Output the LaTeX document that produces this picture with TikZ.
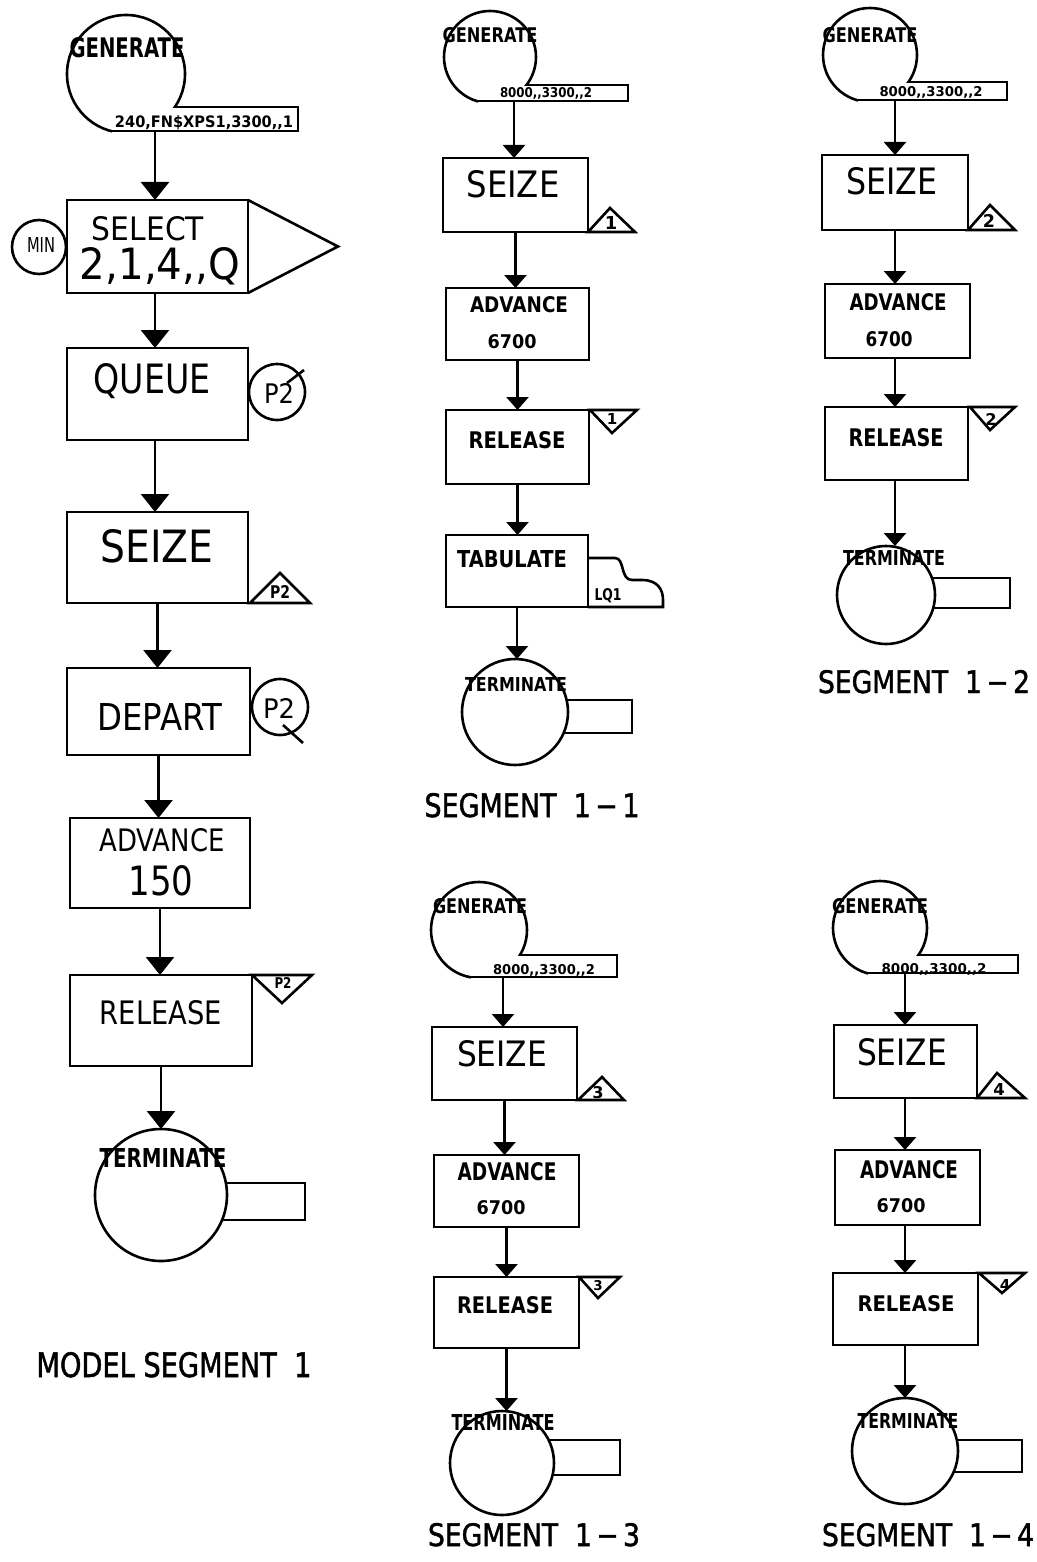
\documentclass[tikz,border=0pt]{standalone}
\usepackage{graphicx}
\usepackage{fontspec}
\setmainfont{DejaVu Sans}
\usetikzlibrary{arrows.meta}
\tikzset{
  ln/.style={line width=2.6pt, line join=miter},
  blk/.style={draw, ln, rectangle, inner sep=0pt, outer sep=0pt},
  cir/.style={draw, ln, circle, inner sep=0pt, outer sep=0pt},
  arL/.style={ln, -{Triangle[length=18pt,width=28pt]}},
  arS/.style={ln, -{Triangle[length=13pt,width=22pt]}},
  lab/.style={anchor=base, inner sep=0pt, outer sep=0pt},
}
\newcommand\cc{,\kern0pt,}
% box: name x1 y1 x2 y2
\newcommand\bx[5]{\node[blk, minimum width={#4-#2}, minimum height={#5-#3}] (#1) at ({(#2+#4)/2},{(#3+#5)/2}) {};}
% text: name cx baseline w h text
\newcommand\tx[6]{\node[lab] (#1) at (#2,#3) {\resizebox{#4pt}{#5pt}{#6}};}
% text by height only: name cx baseline h text
\newcommand\td[5]{\node[lab] (#1) at (#2,#3) {\resizebox{!}{#4pt}{#5}};}
% generate: name cx cy r ytop ybot xright
\newcommand\gen[7]{%
  \node[cir, minimum size={2*#4}] (#1) at (#2,#3) {};
  \pgfmathsetmacro\gxl{#2-sqrt(max(0,#4*#4-(#6-#3)*(#6-#3)))}
  \pgfmathsetmacro\gxr{#2+sqrt(max(0,#4*#4-(#5-#3)*(#5-#3)))}
  \fill[white] (\gxl+1.5,#5+1.4) rectangle (#7,#3+#4+3);
  \draw[ln] (\gxr,#5) -- (#7,#5) -- (#7,#6) -- (\gxl,#6);
}
% terminate: name cx cy r ytop ybot xright
\newcommand\term[7]{%
  \node[cir, minimum size={2*#4}] (#1) at (#2,#3) {};
  \pgfmathsetmacro\txa{#2+sqrt(max(0,#4*#4-(#5-#3)*(#5-#3)))}
  \pgfmathsetmacro\txb{#2+sqrt(max(0,#4*#4-(#6-#3)*(#6-#3)))}
  \draw[ln] (\txa,#5) -- (#7,#5) -- (#7,#6) -- (\txb,#6);
}
\newcommand\capfont{\addfontfeatures{FakeBold=1.5}}
\begin{document}
\begin{tikzpicture}[x=1pt,y=-1pt]
\fill[white] (0,0) rectangle (1036,1562);
\useasboundingbox (0,0) rectangle (1036,1562);

% ================= MODEL SEGMENT 1 =================
\gen{g1}{126}{74}{59}{107}{131}{298}
\tx{g1t}{127}{58}{115}{20}{\bfseries GENERATE}
\tx{g1p}{204}{128}{178}{12}{\bfseries 240,FN\$XPS1,3300\cc1}
\coordinate (g1o) at (155,131);

\bx{sel}{67}{200}{248}{293}
\draw[ln] (sel.north east) -- (338,246.5) -- (sel.south east);
\node[cir, minimum size=54] (min) at (39,247) {};
\tx{mint}{41}{253}{28}{15}{MIN}
\tx{selt}{148}{241}{112}{24}{SELECT}
\tx{selp}{160}{279}{160}{32}{2,1,4\cc Q}

\bx{que}{67}{348}{248}{440}
\tx{quet}{152}{393}{117}{30}{QUEUE}
\node[cir, minimum size=56] (qp) at (277,392) {};
\tx{qpt}{279}{403}{30}{20}{P2}
\draw[ln] (287,383) -- (304,370);

\bx{sei}{67}{512}{248}{603}
\tx{seit}{157}{562}{113}{33}{SEIZE}
\draw[ln] (250,603) -- (280,573) -- (310,603) -- cycle;
\tx{seip}{280}{598}{20}{13}{\bfseries P2}

\bx{dep}{67}{668}{250}{755}
\tx{dept}{160}{730}{125}{27}{DEPART}
\node[cir, minimum size=56] (dp) at (280,707) {};
\tx{dpt}{279}{718}{32}{20}{P2}
\draw[ln] (283,725) -- (303,743);

\bx{adv}{70}{818}{250}{908}
\tx{advt}{162}{851}{125}{23}{ADVANCE}
\tx{advp}{161}{895}{65}{30}{150}

\bx{rel}{70}{975}{252}{1066}
\tx{relt}{161}{1024}{122}{24}{RELEASE}
\draw[ln] (252,975) -- (312,975) -- (282,1003) -- cycle;
\tx{relp}{283}{988}{17}{11}{\bfseries P2}

\term{t1}{161}{1195}{66}{1183}{1220}{305}
\tx{t1t}{163}{1167}{127}{19}{\bfseries TERMINATE}
\tx{cap1}{174}{1377}{275}{25}{\capfont MODEL~SEGMENT~~1}

\draw[arL] (g1o) -- (g1o |- sel.north);
\draw[arL] (g1o |- sel.south) -- (g1o |- que.north);
\draw[arL] (g1o |- que.south) -- (g1o |- sei.north);
\draw[arL] (sei.south) -- (sei.south |- dep.north);
\draw[arL] (dep.south) -- (dep.south |- adv.north);
\draw[arL] (adv.south) -- (adv.south |- rel.north);
\draw[arL] (rel.south) -- (rel.south |- t1.north);

% ================= SEGMENT 1-1 =================
\gen{g11}{490}{57}{46}{85}{101}{628}
\tx{g11t}{490}{43}{95}{15}{\bfseries GENERATE}
\tx{g11p}{546}{98}{92}{10}{\bfseries 8000\cc 3300\cc 2}
\coordinate (g11o) at (514,101);
\bx{s11}{443}{158}{588}{232}
\tx{s11t}{513}{198}{93}{27}{SEIZE}
\draw[ln] (588,232) -- (610,208) -- (635,232) -- cycle;
\td{s11n}{611}{230}{13}{\bfseries 1}
\bx{a11}{446}{288}{589}{360}
\tx{a11t}{519}{312}{98}{16}{\bfseries ADVANCE}
\tx{a11p}{512}{348}{49}{14}{\bfseries 6700}
\bx{r11}{446}{410}{589}{484}
\tx{r11t}{517}{448}{97}{17}{\bfseries RELEASE}
\draw[ln] (590,410) -- (637,410) -- (612,433) -- cycle;
\td{r11n}{612}{424}{11}{\bfseries 1}
\bx{t11}{446}{535}{588}{607}
\tx{t11t}{512}{567}{110}{17}{\bfseries TABULATE}
\draw[ln] (588,558) -- (615,558) .. controls (625,558) and (620,580) .. (632,580) -- (642,580) .. controls (658,580) and (663,590) .. (663,600) -- (663,607) -- (588,607);
\tx{t11p}{608}{600}{27}{12}{\bfseries LQ1}
\term{e11}{515}{712}{53}{700}{733}{632}
\tx{e11t}{516}{691}{102}{14}{\bfseries TERMINATE}
\tx{cap11}{532}{817}{215}{24}{\capfont SEGMENT~~1\,−\,1}

\draw[arS] (g11o) -- (g11o |- s11.north);
\draw[arS] (s11.south) -- (s11.south |- a11.north);
\draw[arS] (a11.south) -- (a11.south |- r11.north);
\draw[arS] (r11.south) -- (r11.south |- t11.north);
\draw[arS] (t11.south) -- (t11.south |- e11.north);

% ================= SEGMENT 1-2 =================
\gen{g12}{870}{55}{47}{82}{100}{1007}
\tx{g12t}{870}{43}{95}{15}{\bfseries GENERATE}
\tx{g12p}{931}{97}{103}{10}{\bfseries 8000\cc 3300\cc 2}
\coordinate (g12o) at (895,100);
\bx{s12}{822}{155}{968}{230}
\tx{s12t}{892}{195}{91}{27}{SEIZE}
\draw[ln] (968,230) -- (990,205) -- (1015,230) -- cycle;
\td{s12n}{989}{228}{13}{\bfseries 2}
\bx{a12}{825}{284}{970}{358}
\tx{a12t}{898}{310}{97}{17}{\bfseries ADVANCE}
\tx{a12p}{889}{346}{47}{15}{\bfseries 6700}
\bx{r12}{825}{407}{968}{480}
\tx{r12t}{896}{446}{95}{18}{\bfseries RELEASE}
\draw[ln] (970,407) -- (1015,407) -- (990,430) -- cycle;
\td{r12n}{991}{425}{12}{\bfseries 2}
\term{e12}{886}{595}{49}{578}{608}{1010}
\tx{e12t}{894}{565}{102}{15}{\bfseries TERMINATE}
\tx{cap12}{924}{693}{212}{23}{\capfont SEGMENT~~1\,−\,2}

\draw[arS] (g12o) -- (g12o |- s12.north);
\draw[arS] (g12o |- s12.south) -- (g12o |- a12.north);
\draw[arS] (g12o |- a12.south) -- (g12o |- r12.north);
\draw[arS] (g12o |- r12.south) -- (g12o |- e12.north);

% ================= SEGMENT 1-3 =================
\gen{g13}{479}{930}{48}{955}{977}{617}
\tx{g13t}{480}{913}{94}{15}{\bfseries GENERATE}
\tx{g13p}{544}{974}{102}{10}{\bfseries 8000\cc 3300\cc 2}
\coordinate (g13o) at (503,977);
\bx{s13}{432}{1027}{577}{1100}
\tx{s13t}{502}{1066}{90}{26}{SEIZE}
\draw[ln] (578,1100) -- (602,1077) -- (624,1100) -- cycle;
\td{s13n}{598}{1098}{12}{\bfseries 3}
\bx{a13}{434}{1155}{579}{1227}
\tx{a13t}{507}{1180}{99}{18}{\bfseries ADVANCE}
\tx{a13p}{501}{1214}{49}{14}{\bfseries 6700}
\bx{r13}{434}{1277}{579}{1348}
\tx{r13t}{505}{1313}{96}{17}{\bfseries RELEASE}
\draw[ln] (579,1277) -- (620,1277) -- (598,1298) -- cycle;
\td{r13n}{598}{1290}{10}{\bfseries 3}
\term{e13}{502}{1463}{52}{1440}{1475}{620}
\tx{e13t}{503}{1430}{103}{16}{\bfseries TERMINATE}
\tx{cap13}{534}{1546}{212}{23}{\capfont SEGMENT~~1\,−\,3}

\draw[arS] (g13o) -- (g13o |- s13.north);
\draw[arS] (s13.south) -- (s13.south |- a13.north);
\draw[arS] (a13.south) -- (a13.south |- r13.north);
\draw[arS] (r13.south) -- (r13.south |- e13.north);

% ================= SEGMENT 1-4 =================
\gen{g14}{880}{928}{47}{955}{973}{1018}
\tx{g14t}{880}{913}{96}{15}{\bfseries GENERATE}
\tx{g14p}{934}{973}{105}{10}{\bfseries 8000\cc 3300\cc 2}
\coordinate (g14o) at (905,973);
\bx{s14}{834}{1025}{977}{1098}
\tx{s14t}{902}{1065}{90}{27}{SEIZE}
\draw[ln] (977,1098) -- (997,1073) -- (1025,1098) -- cycle;
\td{s14n}{999}{1095}{12}{\bfseries 4}
\bx{a14}{835}{1150}{980}{1225}
\tx{a14t}{909}{1178}{98}{18}{\bfseries ADVANCE}
\tx{a14p}{901}{1212}{49}{14}{\bfseries 6700}
\bx{r14}{833}{1273}{978}{1345}
\tx{r14t}{906}{1311}{97}{16}{\bfseries RELEASE}
\draw[ln] (979,1273) -- (1025,1273) -- (1002,1293) -- cycle;
\td{r14n}{1005}{1290}{11}{\bfseries 4}
\term{e14}{905}{1451}{53}{1440}{1472}{1022}
\tx{e14t}{908}{1428}{101}{15}{\bfseries TERMINATE}
\tx{cap14}{928}{1546}{212}{23}{\capfont SEGMENT~~1\,−\,4}

\draw[arS] (g14o) -- (g14o |- s14.north);
\draw[arS] (g14o |- s14.south) -- (g14o |- a14.north);
\draw[arS] (g14o |- a14.south) -- (g14o |- r14.north);
\draw[arS] (g14o |- r14.south) -- (g14o |- e14.north);
\end{tikzpicture}
\end{document}
